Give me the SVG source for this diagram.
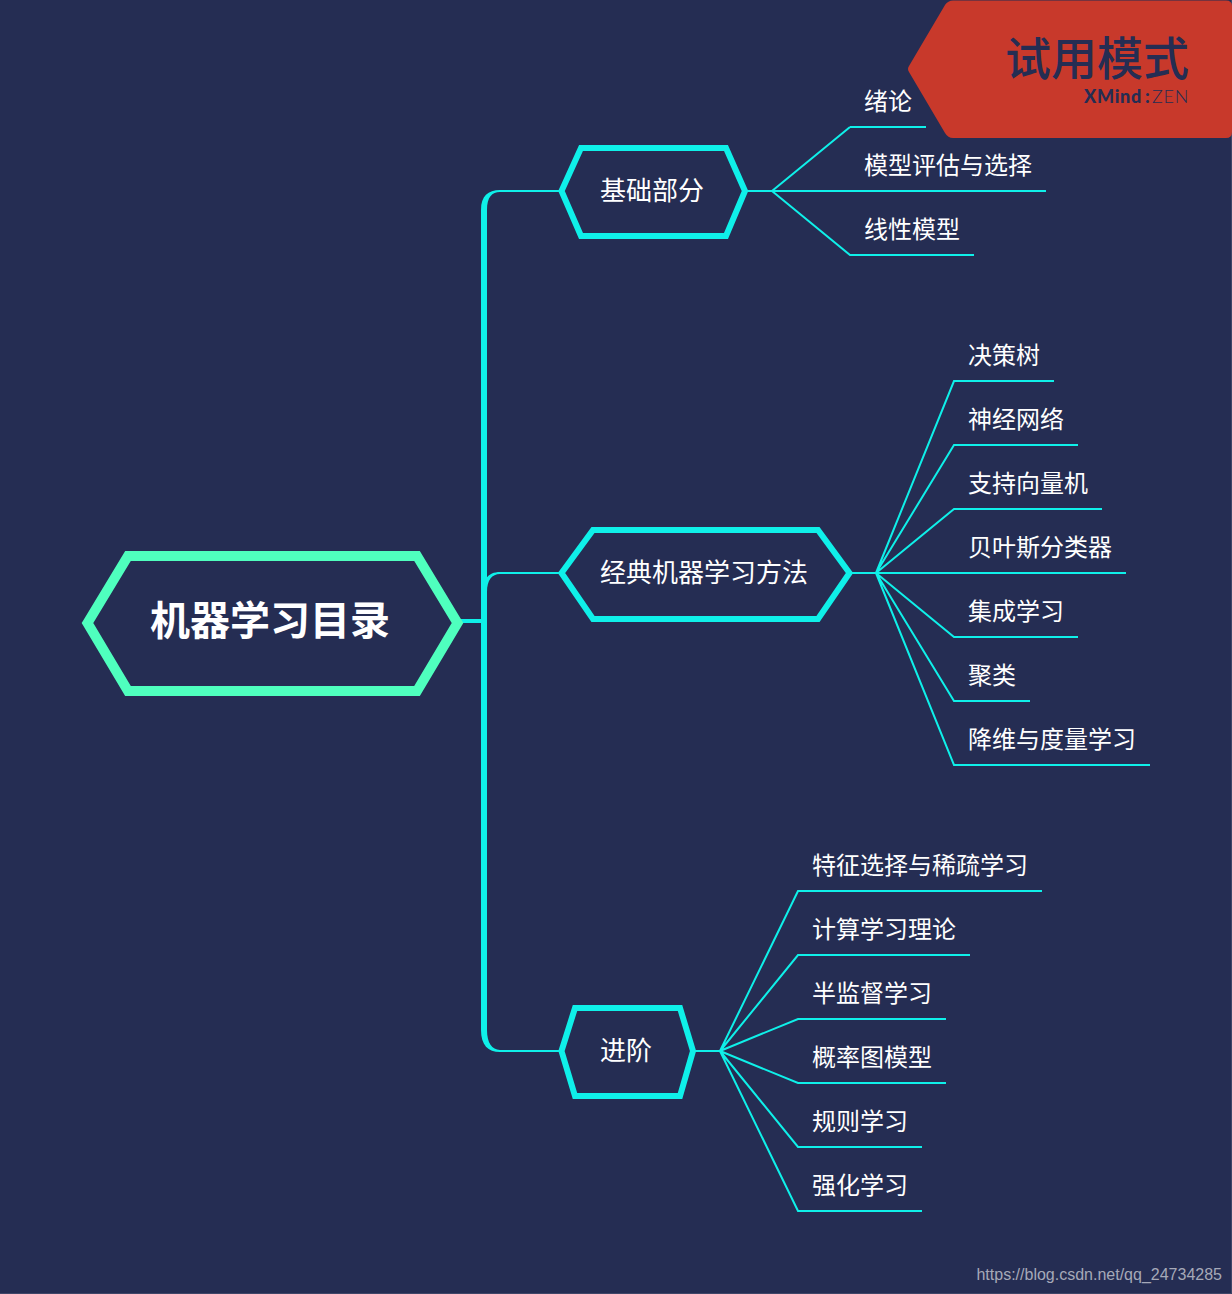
<svg xmlns="http://www.w3.org/2000/svg" width="1232" height="1294" viewBox="0 0 1232 1294">
<style>
text{font-family:"Noto Sans CJK SC","Noto Sans",sans-serif;fill:#fff}
.leaf{font-size:24px}
.main{font-size:26px}
.hex{fill:#252D53;stroke:#0FF0E9;stroke-width:6;stroke-linejoin:miter}
.thin{fill:none;stroke:#0FF0E9;stroke-width:2}
.trunk{fill:#0FF0E9}
.brand{fill:#252D53;font-family:Lato,sans-serif;font-size:18px}
</style>
<rect width="1232" height="1294" fill="#252D53"/>
<path d="M1231.500,0V1293.500H0" fill="none" stroke="#3F4668" stroke-width="1"/>
<g id="connectors">
<path class="thin" d="M745,191H772M850,127H926M772,191L850,127M772,191H1046M772,191L850,255H974"/>
<path class="thin" d="M850,573H876M876,573L954,381H1054M876,573L954,445H1078M876,573L954,509H1102M876,573H1126M876,573L954,637H1078M876,573L954,701H1030M876,573L954,765H1150"/>
<path class="thin" d="M693,1051H720M720,1051L798,891H1042M720,1051L798,955H970M720,1051L798,1019H946M720,1051L798,1083H946M720,1051L798,1147H922M720,1051L798,1211H922"/>
<path class="trunk" d="M458,619H481V210C481,196 488,190 500,190H560V192H500C492,192 487,197 487,210V623H458Z"/>
<path class="trunk" d="M481,600C481,580 488,572 500,572H560V574H500C492,574 487,580 487,592V600Z"/>
<path class="trunk" d="M481,610H487V1030C487,1043 492,1049.500 500,1050H560V1052H500C488,1052 481,1045 481,1030Z"/>
</g>
<g id="root">
<polygon points="87.500,623 128,556 417,556 457.500,623 417,691 128,691" fill="#252D53" stroke="#4FFFBE" stroke-width="10"/>
<text x="270" y="635" text-anchor="middle" font-size="40" font-weight="700">机器学习目录</text>
</g>
<g id="node-basic">
<polygon class="hex" points="561.500,191 581,148 726,148 745,191 726,236 581,236"/>
<text class="main" x="600" y="200">基础部分</text>
</g>
<g id="node-classic">
<polygon class="hex" points="561.500,573 593,530 818,530 849.500,573 818,619 593,619"/>
<text class="main" x="600" y="582">经典机器学习方法</text>
</g>
<g id="node-advanced">
<polygon class="hex" points="561.500,1051 575,1008 680,1008 693,1051 680,1096 575,1096"/>
<text class="main" x="600" y="1060">进阶</text>
</g>
<g id="leaves">
<g id="l1"><text class="leaf" x="864" y="110">绪论</text></g>
<g id="l2"><text class="leaf" x="864" y="174">模型评估与选择</text></g>
<g id="l3"><text class="leaf" x="864" y="238">线性模型</text></g>
<g id="l4"><text class="leaf" x="968" y="364">决策树</text></g>
<g id="l5"><text class="leaf" x="968" y="428">神经网络</text></g>
<g id="l6"><text class="leaf" x="968" y="492">支持向量机</text></g>
<g id="l7"><text class="leaf" x="968" y="556">贝叶斯分类器</text></g>
<g id="l8"><text class="leaf" x="968" y="620">集成学习</text></g>
<g id="l9"><text class="leaf" x="968" y="684">聚类</text></g>
<g id="l10"><text class="leaf" x="968" y="748">降维与度量学习</text></g>
<g id="l11"><text class="leaf" x="812" y="874">特征选择与稀疏学习</text></g>
<g id="l12"><text class="leaf" x="812" y="938">计算学习理论</text></g>
<g id="l13"><text class="leaf" x="812" y="1002">半监督学习</text></g>
<g id="l14"><text class="leaf" x="812" y="1066">概率图模型</text></g>
<g id="l15"><text class="leaf" x="812" y="1130">规则学习</text></g>
<g id="l16"><text class="leaf" x="812" y="1194">强化学习</text></g>
</g>
<g id="trial-badge">
<path d="M953,0.500H1226Q1232,0.500 1232,6V132Q1232,138 1226,138H953Q948,138 945,133L909,72Q907,69 909,66L945,5Q948,0.500 953,0.500Z" fill="#C8392B"/>
<text x="1189" y="75" text-anchor="end" font-size="46" font-weight="500" style="fill:#252D53">试用模式</text>
<text class="brand" x="1084" y="103" font-weight="900" letter-spacing="0.700">XMind</text>
<text class="brand" x="1145" y="103" font-weight="900">:</text>
<text class="brand" x="1152" y="103" font-weight="300" letter-spacing="0.800">ZEN</text>
</g>
<text x="1222" y="1280" text-anchor="end" font-size="16" style="fill:#A6A9B8;font-family:'Liberation Sans',sans-serif">https://blog.csdn.net/qq_24734285</text>
</svg>
